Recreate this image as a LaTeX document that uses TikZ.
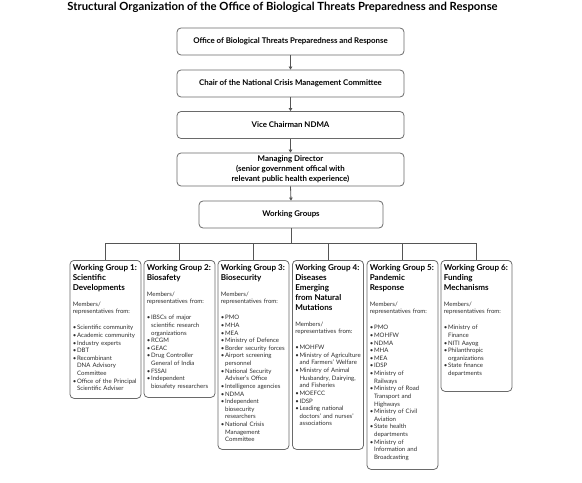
\documentclass[tikz,border=0pt]{standalone}
\usepackage{fontspec}
\setmainfont{Lato}
\usetikzlibrary{arrows.meta}
\definecolor{boxgray}{HTML}{6A6A6A}
\definecolor{linegray}{HTML}{555555}
\definecolor{bodytext}{HTML}{2E2E2E}
\newcommand\wghead[1]{{\fontsize{8.1}{10}\selectfont\bfseries\color{black}#1\par}}
\newcommand\memb{\vspace{8.5bp}Members/\newline representatives from:\par\vspace{8.3bp}}
\newcommand\bitem[1]{\hangindent=4.3bp\hangafter=1\noindent\makebox[4.3bp][l]{\textbullet}#1\par}
\begin{document}
\begin{tikzpicture}[x=1bp,y=-1bp,
  topbox/.style={draw=boxgray, line width=0.8bp, rounded corners=4bp, minimum width=227bp, minimum height=27bp, inner sep=0pt, font=\fontsize{7.9}{9.8}\selectfont\bfseries, align=center},
  wgbox/.style={draw=boxgray, line width=0.8bp, rounded corners=4bp, minimum width=71bp, inner sep=0pt, anchor=north},
  wgtext/.style={anchor=north west, inner sep=0pt, text width=70bp, align=left, text=bodytext, font=\fontsize{6.1}{7.65}\selectfont},
  conn/.style={draw=linegray, line width=0.8bp},
  arr/.style={conn, -{Triangle[length=3bp,width=3.5bp]}}]
\useasboundingbox (0,0) rectangle (582,483);
\node[font=\fontsize{11.3}{13}\selectfont\bfseries] (title) at (282.5,7) {Structural Organization of the Office of Biological Threats Preparedness and Response};
\node[topbox] (b1) at (290.5,41.5) {Office of Biological Threats Preparedness and Response};
\node[topbox] (b2) at (290.5,83.5) {Chair of the National Crisis Management Committee};
\node[topbox] (b3) at (290.5,125) {Vice Chairman NDMA};
\node[topbox, minimum height=33bp] (b4) at (290.5,169.5) {Managing Director\\(senior government offical with\\relevant public health experience)};
\node[topbox, minimum width=184bp] (wg) at (291,214.5) {Working Groups};
\draw[arr] (b1.south) -- (b2.north);
\draw[arr] (b2.south) -- (b3.north);
\draw[arr] (b3.south) -- (b4.north);
\draw[arr] (b4.south) -- (wg.north);
% working group boxes
\node[wgbox, minimum height=138bp] (g1) at (105.5,260) {};
\node[wgbox, minimum height=137bp] (g2) at (179.5,260) {};
\node[wgbox, minimum height=189bp] (g3) at (253.5,260) {};
\node[wgbox, minimum height=189bp] (g4) at (328,260) {};
\node[wgbox, minimum height=209bp] (g5) at (402.5,260) {};
\node[wgbox, minimum height=131bp] (g6) at (476.5,260) {};
\coordinate (bus) at (291,243);
\draw[conn] (wg.south) -- (bus);
\foreach \g in {g1,g2,g3,g4,g5,g6} {\draw[conn] (bus) -| (\g.north);}
\node[wgtext] (t1) at ([xshift=3bp,yshift=-4bp]g1.north west) {%
\wghead{Working Group 1:\newline Scientific\newline Developments}\memb
\bitem{Scientific community}\bitem{Academic community}\bitem{Industry experts}\bitem{DBT}%
\bitem{Recombinant\newline DNA Advisory\newline Committee}\bitem{Office of the Principal\newline Scientific Adviser}};
\node[wgtext] (t2) at ([xshift=3bp,yshift=-4bp]g2.north west) {%
\wghead{Working Group 2:\newline Biosafety}\memb
\bitem{IBSCs of major\newline scientific research\newline organizations}\bitem{RCGM}\bitem{GEAC}%
\bitem{Drug Controller\newline General of India}\bitem{FSSAI}\bitem{Independent\newline biosafety researchers}};
\node[wgtext] (t3) at ([xshift=3bp,yshift=-4bp]g3.north west) {%
\wghead{Working Group 3:\newline Biosecurity}\memb
\bitem{PMO}\bitem{MHA}\bitem{MEA}\bitem{Ministry of Defence}\bitem{Border security forces}%
\bitem{Airport screening\newline personnel}\bitem{National Security\newline Adviser’s Office}%
\bitem{Intelligence agencies}\bitem{NDMA}\bitem{Independent\newline biosecurity\newline researchers}%
\bitem{National Crisis\newline Management\newline Committee}};
\node[wgtext] (t4) at ([xshift=3bp,yshift=-4bp]g4.north west) {%
\wghead{Working Group 4:\newline Diseases\newline Emerging\newline from Natural\newline Mutations}\memb
\bitem{MOHFW}\bitem{Ministry of Agriculture\newline and Farmers’ Welfare}%
\bitem{Ministry of Animal\newline Husbandry, Dairying,\newline and Fisheries}\bitem{MOEFCC}\bitem{IDSP}%
\bitem{Leading national\newline doctors’ and nurses’\newline associations}};
\node[wgtext] (t5) at ([xshift=3bp,yshift=-4bp]g5.north west) {%
\wghead{Working Group 5:\newline Pandemic\newline Response}\memb
\bitem{PMO}\bitem{MOHFW}\bitem{NDMA}\bitem{MHA}\bitem{MEA}\bitem{IDSP}%
\bitem{Ministry of\newline Railways}\bitem{Ministry of Road\newline Transport and\newline Highways}%
\bitem{Ministry of Civil\newline Aviation}\bitem{State health\newline departments}%
\bitem{Ministry of\newline Information and\newline Broadcasting}};
\node[wgtext] (t6) at ([xshift=3bp,yshift=-4bp]g6.north west) {%
\wghead{Working Group 6:\newline Funding\newline Mechanisms}\memb
\bitem{Ministry of\newline Finance}\bitem{NITI Aayog}\bitem{Philanthropic\newline organizations}%
\bitem{State finance\newline departments}};
\end{tikzpicture}
\end{document}
